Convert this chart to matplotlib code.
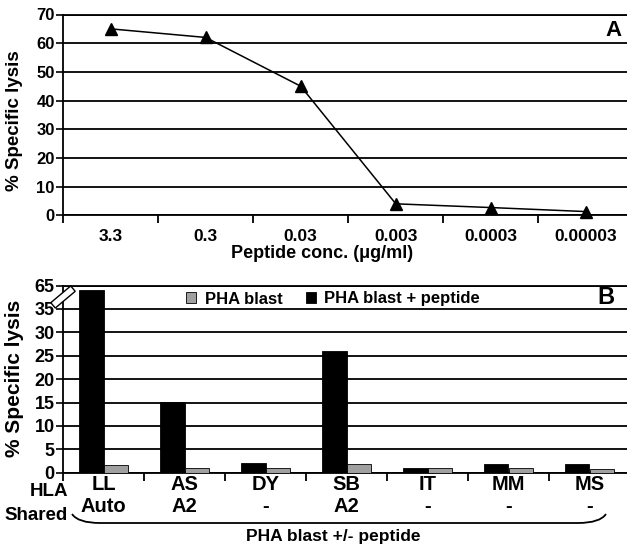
import numpy as np
import matplotlib.pyplot as plt
from matplotlib.patches import Patch, Polygon, PathPatch
from matplotlib.path import Path

plt.rcParams['font.family'] = ['Liberation Sans', 'DejaVu Sans']
plt.rcParams['font.weight'] = 'bold'

# Panel A : lyse en fonction de la concentration de peptide
conc_labels = ['3.3', '0.3', '0.03', '0.003', '0.0003', '0.00003']
lysis_conc = [65, 62, 45, 4, 2.7, 1.3]

# Panel B : cibles PHA blast +/- peptide
cibles = ['LL', 'AS', 'DY', 'SB', 'IT', 'MM', 'MS']
hla_shared = ['Auto', 'A2', '-', 'A2', '-', '-', '-']
lysis_blast = [1.6, 1.1, 1.0, 1.8, 1.0, 0.9, 0.8]
lysis_peptide = [59, 15.2, 2.0, 26, 1.0, 1.8, 1.8]

W, H = 627, 544
fig = plt.figure(figsize=(W / 100, H / 100), dpi=100)

def fx(px):
    return px / W

def fy(py):
    return 1 - py / H

lw_grid = 1.3

# ---------- A ----------
axA = fig.add_axes([fx(63), fy(215.3), fx(633.5) - fx(63), fy(14.5) - fy(215.3)])
x = np.arange(len(conc_labels))
axA.plot(x, lysis_conc, color='black', lw=1.1, marker='^', ms=8, zorder=3, clip_on=False)
axA.set_xlim(-0.5, len(conc_labels) - 0.5)
axA.set_ylim(0, 70)
axA.set_yticks(range(0, 71, 10))
axA.yaxis.grid(True, color='black', lw=lw_grid)
axA.set_axisbelow(True)
axA.set_xticks(x)
axA.set_xticklabels(conc_labels, fontsize=12.5, fontweight='bold')
axA.set_xticks(np.arange(-0.5, len(conc_labels), 1), minor=True)
axA.tick_params(axis='x', which='major', length=0, pad=10)
axA.tick_params(axis='x', which='minor', length=6, width=1.3, direction='out')
axA.tick_params(axis='y', length=5, width=1.2, labelsize=12, pad=1)
for lab in axA.get_yticklabels():
    lab.set_fontweight('bold')
for s in ['top', 'bottom', 'left']:
    axA.spines[s].set_linewidth(lw_grid)
axA.spines['right'].set_visible(False)
fig.text(fx(322), fy(245.5), 'Peptide conc. (\u03bcg/ml)', ha='center', va='top',
         fontsize=13, fontweight='bold')
fig.text(fx(15), fy(121), '% Specific lysis', rotation=90, ha='center', va='center',
         fontsize=13.5, fontweight='bold')
fig.text(fx(613), fy(31), 'A', ha='center', va='center', fontsize=16, fontweight='bold')

# ---------- B ----------
# axe coupé : de 35 à 65, compressé dans un pas de 5
def coupe(v):
    return v if v <= 35 else 35 + (v - 35) / 6.0

axB = fig.add_axes([fx(63), fy(472.7), fx(630) - fx(63), fy(285.6) - fy(472.7)])
xb = np.arange(len(cibles))
bw = 0.3
axB.bar(xb - bw / 2, [coupe(v) for v in lysis_peptide], bw, color='black', edgecolor='black',
        lw=0.6, zorder=3)
axB.bar(xb + bw / 2, [coupe(v) for v in lysis_blast], bw, color='#a0a0a0', edgecolor='black',
        lw=0.6, zorder=3)
axB.set_xlim(-0.5, len(cibles) - 0.5)
axB.set_ylim(0, 40)
axB.set_yticks(range(0, 41, 5))
axB.set_yticklabels(['0', '5', '10', '15', '20', '25', '30', '35', '65'], fontsize=13,
                    fontweight='bold')
axB.yaxis.grid(True, color='black', lw=lw_grid)
axB.set_axisbelow(True)
axB.set_xticks(np.arange(-0.5, len(cibles), 1))
axB.set_xticklabels([])
axB.tick_params(axis='x', length=6, width=1.3, direction='out')
axB.tick_params(axis='y', length=5, width=1.2, pad=1)
for s in ['top', 'bottom', 'left']:
    axB.spines[s].set_linewidth(lw_grid)
axB.spines['right'].set_visible(False)

for i in range(len(cibles)):
    px = 63 + (i + 0.5) * 81
    fig.text(fx(px), fy(485), cibles[i], ha='center', va='center', fontsize=14.5)
    fig.text(fx(px), fy(507), hla_shared[i], ha='center', va='center', fontsize=14.5)
fig.text(fx(68), fy(492), 'HLA', ha='right', va='center', fontsize=13.5)
fig.text(fx(68), fy(515), 'Shared', ha='right', va='center', fontsize=13.5)
fig.text(fx(15), fy(378), '% Specific lysis', rotation=90, ha='center', va='center',
         fontsize=15, fontweight='bold')
fig.text(fx(606), fy(297), 'B', ha='center', va='center', fontsize=17, fontweight='bold')
fig.text(fx(333), fy(537), 'PHA blast +/- peptide', ha='center', va='center', fontsize=12.5)

# accolade sous les cibles
pts = [(72, 514), (78, 523), (100, 523), (578, 523), (600, 523), (606, 514)]
codes = [Path.MOVETO, Path.CURVE3, Path.CURVE3, Path.LINETO, Path.CURVE3, Path.CURVE3]
chemin = Path([(fx(a), fy(b)) for a, b in pts], codes)
fig.patches.append(PathPatch(chemin, transform=fig.transFigure, fill=False, lw=1.3,
                             edgecolor='black'))

# symbole de coupure sur l'axe y
c = np.array([63.0, 297.0])
d = np.array([np.cos(np.radians(40)), -np.sin(np.radians(40))])
n = np.array([-d[1], d[0]]) * -1
L, E = 13, 3.5
coins = [c - L * d - E * n, c + L * d - E * n, c + L * d + E * n, c - L * d + E * n]
fig.patches.append(Polygon([(fx(p[0]), fy(p[1])) for p in coins], closed=True,
                           transform=fig.transFigure, facecolor='white', edgecolor='black',
                           lw=1.0, zorder=5))

handles = [Patch(facecolor='#a0a0a0', edgecolor='black', lw=0.6),
           Patch(facecolor='black', edgecolor='black', lw=0.6)]
fig.legend(handles, ['PHA blast', 'PHA blast + peptide'], loc='center',
           bbox_to_anchor=(fx(333), fy(299)), ncol=2, frameon=False, fontsize=12,
           handlelength=0.6, handleheight=0.6, handletextpad=0.5, columnspacing=1.4)

fig.savefig('out.png', dpi=100)
